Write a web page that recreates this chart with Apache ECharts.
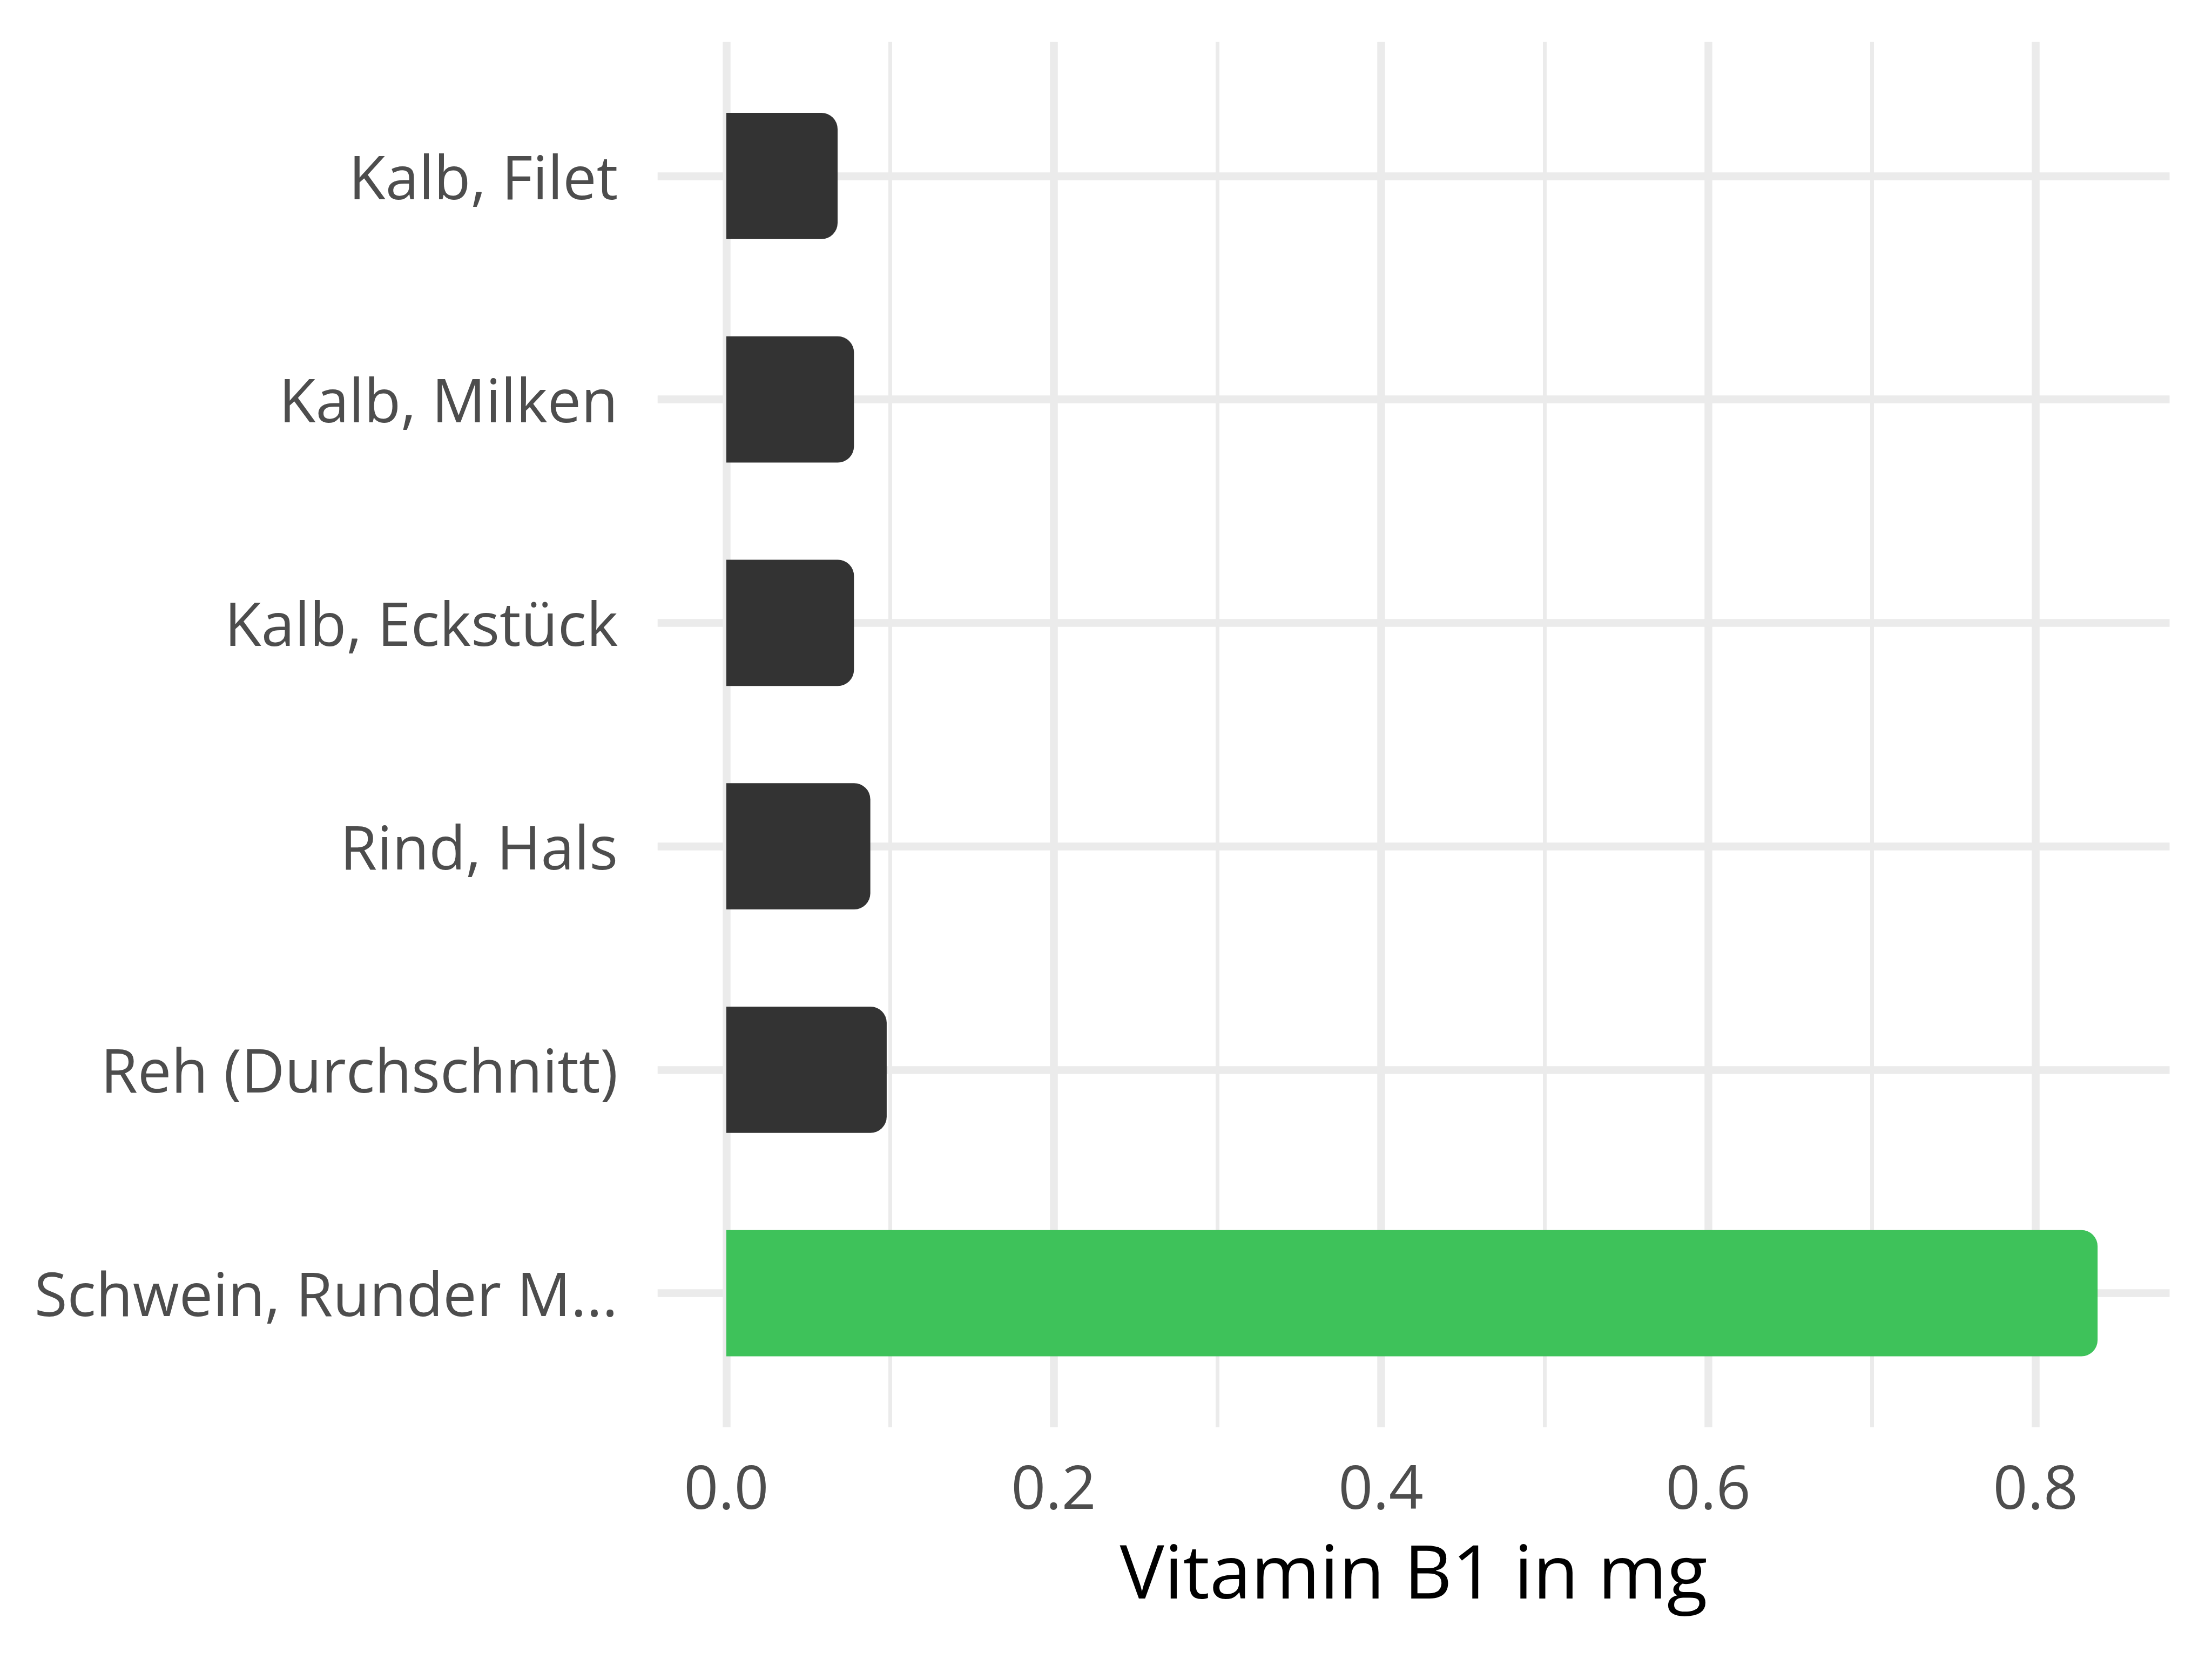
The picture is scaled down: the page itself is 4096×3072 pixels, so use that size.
<!DOCTYPE html>
<html>
<head>
<meta charset="utf-8">
<script src="https://cdn.jsdelivr.net/npm/echarts@6/dist/echarts.min.js"></script>
<style>
html,body{margin:0;padding:0;background:#fff;}
#chart{width:4096px;height:3072px;}
</style>
</head>
<body>
<div id="chart"></div>
<script>
// Data
const categories = ["Kalb, Filet", "Kalb, Milken", "Kalb, Eckstück", "Rind, Hals", "Reh (Durchschnitt)", "Schwein, Runder M..."];
const values = [0.068, 0.078, 0.078, 0.088, 0.098, 0.838];
const barColors = ["#333333", "#333333", "#333333", "#333333", "#333333", "#3EC25A"];
const xTicks = [0, 0.2, 0.4, 0.6, 0.8];
const xTitle = "Vitamin B1 in mg";

const FONT = "Open Sans";
const chart = echarts.init(document.getElementById('chart'), null, {renderer: 'canvas'});

const option = {
  backgroundColor: '#ffffff',
  animation: false,
  grid: [
    {left: 1344.9, right: 326.8, top: 77.7, bottom: 429.2, containLabel: false},
    {left: 1217.7, right: 78.5, top: 119.1, bottom: 470.6, containLabel: false}
  ],
  xAxis: [
    {
      gridIndex: 0, type: 'value', min: xTicks[0], max: xTicks[xTicks.length - 1], interval: 0.2,
      axisLine: {show: false}, axisTick: {show: false},
      axisLabel: {
        fontFamily: FONT, fontSize: 112, color: '#4D4D4D', margin: 63,
        formatter: v => v.toFixed(1)
      },
      splitLine: {show: true, lineStyle: {color: '#EBEBEB', width: 14.5}},
      minorTick: {show: false, splitNumber: 2},
      minorSplitLine: {show: true, lineStyle: {color: '#EBEBEB', width: 7}}
    },
    {
      gridIndex: 1, type: 'value', min: -0.042, max: 0.882,
      axisLine: {show: false}, axisTick: {show: false}, axisLabel: {show: false},
      splitLine: {show: false},
      name: xTitle, nameLocation: 'middle', nameGap: 250,
      nameTextStyle: {fontFamily: FONT, fontSize: 138, color: '#000000'}
    }
  ],
  yAxis: [
    {gridIndex: 0, type: 'value', show: false, splitLine: {show: false}},
    {
      gridIndex: 1, type: 'category', data: categories, inverse: true,
      axisLine: {show: false}, axisTick: {show: false, alignWithLabel: true},
      axisLabel: {
        margin: 73.5,
        formatter: v => '{a|' + v + '}',
        rich: {a: {fontFamily: FONT, fontSize: 111, color: '#4D4D4D', padding: [22, 0, 0, 0]}}
      },
      splitLine: {show: true, alignWithLabel: true, lineStyle: {color: '#EBEBEB', width: 14.5}}
    }
  ],
  series: [{
    type: 'bar',
    xAxisIndex: 1, yAxisIndex: 1,
    barWidth: '56.5%',
    data: values.map((v, i) => ({value: v, itemStyle: {color: barColors[i]}})),
    itemStyle: {borderRadius: [0, 30, 30, 0]}
  }]
};
chart.setOption(option);
</script>
</body>
</html>
